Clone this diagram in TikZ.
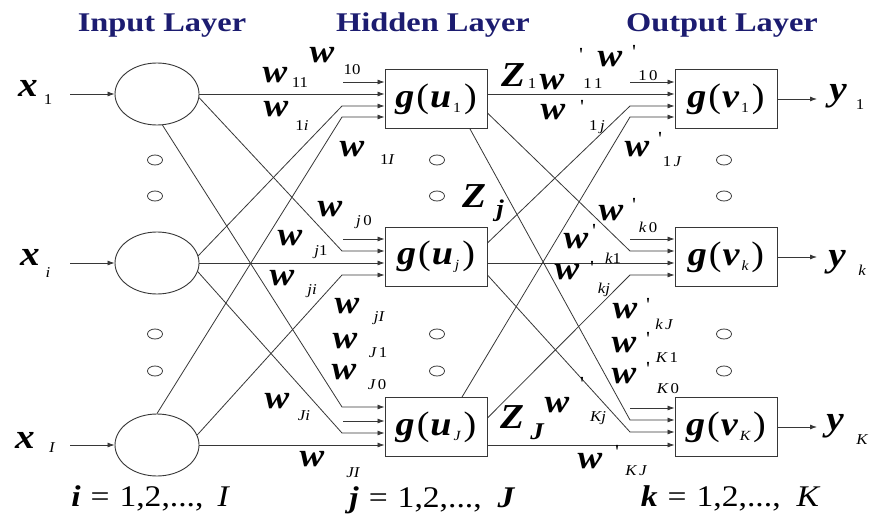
\documentclass[tikz,border=0pt]{standalone}
\usepackage{fontspec}
\setmainfont[FakeStretch=1.12]{Liberation Serif}
\newfontfamily\ttlfam[FakeStretch=1.2]{Liberation Serif}
\usetikzlibrary{shapes.geometric,arrows.meta,calc}
\definecolor{navy}{RGB}{28,28,112}
\definecolor{ln}{RGB}{55,55,55}
\newcommand\fs[1]{\fontsize{#1}{#1}\selectfont}
\newcommand\bitl[1]{{\bfseries\itshape #1}}
\newcommand\itl[1]{{\itshape #1}}
\newcommand\gfun[2]{\bitl{g}\hspace{2pt}(\hspace{1pt}\bitl{#1}\hspace{2pt}\raisebox{-5pt}{\fs{14}#2}\hspace{3pt})}
\begin{document}
\begin{tikzpicture}[x=1pt,y=-1pt,
  every node/.style={inner sep=0pt},
  neuron/.style={ellipse, draw=ln, line width=0.9pt, minimum width=84pt, minimum height=62pt},
  unit/.style={rectangle, draw=ln, line width=0.9pt, minimum width=102pt, minimum height=59pt, font=\fs{34}},
  dotc/.style={ellipse, draw=ln, line width=0.8pt, minimum width=15pt, minimum height=10pt},
  con/.style={draw=ln, line width=0.8pt},
  arr/.style={con, -{Latex[length=7pt,width=5pt]}},
  ttl/.style={font=\ttlfam\bfseries\fs{27}, text=navy, anchor=base},
  big/.style={font=\bfseries\itshape\fs{35}, anchor=base},
  wl/.style={font=\bfseries\itshape\fs{33}, anchor=base},
  sb/.style={font=\fs{15}},
  prm/.style={font=\fs{20}},
  rng/.style={font=\fs{30}, anchor=base}]
\useasboundingbox (0,0) rectangle (872,516);
\fill[white] (0,0) rectangle (872,516);
% titles
\node[ttl] (t1) at (162,32) {Input Layer};
\node[ttl] (t2) at (433,32) {Hidden Layer};
\node[ttl] (t3) at (722,32) {Output Layer};
% neurons
\node[neuron] (e1) at (157,94) {};
\node[neuron] (ei) at (157,263) {};
\node[neuron] (eI) at (157,445) {};
\node[unit] (h1) at (436,99) {\gfun{u}{1}};
\node[unit] (hj) at (436,257) {\gfun{u}{\itl{j}}};
\node[unit] (hJ) at (436,427) {\gfun{u}{\itl{J}}};
\node[unit] (o1) at (726,99) {\gfun{v}{1}};
\node[unit] (ok) at (726,257) {\gfun{v}{\itl{k}}};
\node[unit] (oK) at (726,427) {\gfun{v}{\itl{K}}};
% ellipsis dots
\foreach \x in {155,437,724} \foreach \y in {160,196,334,371}
  \node[dotc] (d-\x-\y) at (\x,\y) {};
% inputs and outputs
\coordinate (a1) at (70,94); \coordinate (ai) at (70,263); \coordinate (aI) at (70,445);
\draw[arr] (a1) -- (e1); \draw[arr] (ai) -- (ei); \draw[arr] (aI) -- (eI);
\coordinate (z1) at (817,99); \coordinate (zk) at (817,257); \coordinate (zK) at (817,427);
\draw[arr] (o1) -- (z1); \draw[arr] (ok) -- (zk); \draw[arr] (oK) -- (zK);
% input -> hidden
\coordinate (c10) at (343,82);  \coordinate (c1i) at (342,106); \coordinate (c1I) at (342,117);
\coordinate (cj0) at (343,239); \coordinate (cj1) at (342,251); \coordinate (cjI) at (342,275);
\coordinate (cJ1) at (342,407); \coordinate (cJ0) at (343,421); \coordinate (cJi) at (342,433);
\draw[arr] (e1) -- (e1 -| h1.west);
\draw[arr] (ei) -- (ei -| hj.west);
\draw[arr] (eI) -- (eI -| hJ.west);
\draw[arr] (c10) -- (c10 -| h1.west);
\draw[arr] (ei.10) -- (c1i) -- (c1i -| h1.west);
\draw[arr] (eI.north) -- (c1I) -- (c1I -| h1.west);
\draw[arr] (cj0) -- (cj0 -| hj.west);
\draw[arr] (e1.-5) -- (cj1) -- (cj1 -| hj.west);
\draw[arr] (eI.14) -- (cjI) -- (cjI -| hj.west);
\draw[arr] (e1.-80) -- (cJ1) -- (cJ1 -| hJ.west);
\draw[arr] (cJ0) -- (cJ0 -| hJ.west);
\draw[arr] (ei.-12) -- (cJi) -- (cJi -| hJ.west);
% hidden -> output
\coordinate (p10) at (630,82);  \coordinate (p1j) at (630,106); \coordinate (p1J) at (630,117);
\coordinate (pk0) at (630,239); \coordinate (pk1) at (630,251); \coordinate (pkJ) at (630,275);
\coordinate (pK0) at (630,408); \coordinate (pK1) at (630,420); \coordinate (pKj) at (630,432);
\coordinate (q1k) at ([yshift=-14pt]h1.east);
\coordinate (q1K) at ([xshift=34pt]h1.south);
\coordinate (qj1) at ([yshift=14pt]hj.east);
\coordinate (qjK) at ([yshift=-18pt]hj.east);
\coordinate (qJ1) at ([xshift=26pt]hJ.north);
\coordinate (qJk) at ([yshift=9pt]hJ.east);
\draw[arr] (h1.east |- e1) -- (o1.west |- e1);
\draw[arr] (hj.east |- ei) -- (ok.west |- ei);
\draw[arr] (hJ.east |- eI) -- (oK.west |- eI);
\draw[arr] (p10) -- (p10 -| o1.west);
\draw[arr] (qj1) -- (p1j) -- (p1j -| o1.west);
\draw[arr] (qJ1) -- (p1J) -- (p1J -| o1.west);
\draw[arr] (pk0) -- (pk0 -| ok.west);
\draw[arr] (q1k) -- (pk1) -- (pk1 -| ok.west);
\draw[arr] (qJk) -- (pkJ) -- (pkJ -| ok.west);
\draw[arr] (pK0) -- (pK0 -| oK.west);
\draw[arr] (q1K) -- (pK1) -- (pK1 -| oK.west);
\draw[arr] (qjK) -- (pKj) -- (pKj -| oK.west);
% big letters
\foreach \px/\py/\t [count=\n] in {
  28/97/x, 30/265/x, 25/448/x, 838/101/y, 837/266/y, 835/430/y,
  513/87/Z, 474/207/Z, 512/428/Z}
  \node[big] (b\n) at (\px,\py) {\t};
\foreach \px/\py [count=\n] in {
  275/83, 322/63, 276/117, 352/157, 330/216, 290/245,
  282/285, 347/313, 345/348, 344/379, 277/408, 312/466,
  552/90, 610/67, 553/120, 637/157, 611/220, 576/248,
  567/279, 625/318, 624/352, 624/383, 557/412, 590/468}
  \node[wl] (w\n) at (\px,\py) {w};
% subscripts
\foreach \px/\py/\t [count=\n] in {
  48/100/1, 48/273/{\itl{i}}, 52/448/{\itl{I}},
  860/105/1, 862/270/{\itl{k}}, 862/440/{\itl{K}},
  300/83/11, 352/70/10, 302/126/{1\itl{i}}, 387/160/{1\itl{I}},
  364/222/{\itl{j}\,0}, 321/252/{\itl{j}1}, 312/291/{\itl{ji}}, 379/318/{\itl{jI}},
  378/353/{\itl{J}\,1}, 377/385/{\itl{J}\,0}, 304/416/{\itl{Ji}}, 353/473/{\itl{JI}},
  532/84/1, 593/84/{1\,1}, 648/76/{1\,0}, 597/127/{1\,\itl{j}}, 672/162/{1\,\itl{J}},
  648/227/{\itl{k}\,0}, 613/258/{\itl{k}1}, 604/290/{\itl{kj}}, 664/324/{\itl{k}\,\itl{J}},
  667/358/{\itl{K}\,1}, 668/389/{\itl{K}\,0}, 598/418/{\itl{Kj}}, 636/471/{\itl{K}\,\itl{J}}}
  \node[sb] (s\n) at (\px,\py) {\t};
\node[font=\bfseries\itshape\fs{24}] (zj) at (500,211) {j};
\node[font=\bfseries\itshape\fs{24}] (zJ) at (537,432) {J};
% primes
\foreach \px/\py [count=\n] in {581/55,634/52,582/107,660/139,634/205,594/231,592/268,648/305,648/339,648/369,582/384,617/452}
  \node[prm] (r\n) at (\px,\py) {\textquotesingle};
% ranges
\node[rng] (g1) at (150,506) {\bitl{i}\hspace{10pt}=\hspace{10pt}1,2,...,\hspace{14pt}\itl{I}};
\node[rng] (g2) at (432,507) {\bitl{j}\hspace{10pt}=\hspace{10pt}1,2,...,\hspace{16pt}\bitl{J}};
\node[rng] (g3) at (730,506) {\bitl{k}\hspace{10pt}=\hspace{10pt}1,2,...,\hspace{16pt}\itl{K}};
\end{tikzpicture}
\end{document}
